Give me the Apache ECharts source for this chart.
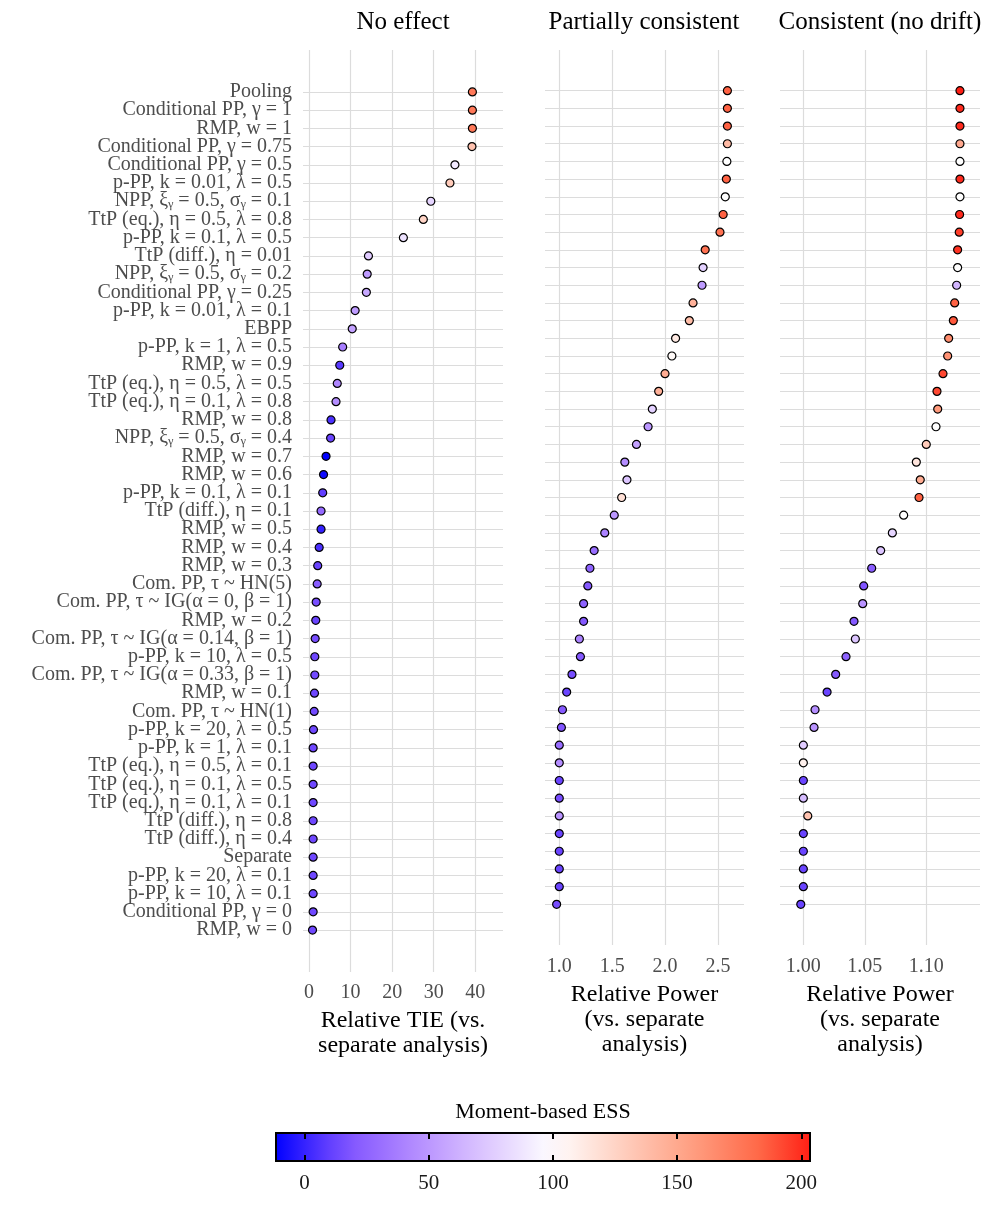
<!DOCTYPE html>
<html>
<head>
<meta charset="utf-8">
<script src="https://cdn.jsdelivr.net/npm/echarts@6/dist/echarts.min.js"></script>
<style>
  html, body { margin: 0; padding: 0; background: #fff; }
  #main { width: 997px; height: 1231px; }
</style>
</head>
<body>
<div id="main"></div>
<script>
// row labels of the first panel (top to bottom)
var methods = [
  'Pooling', 'Conditional PP, γ = 1', 'RMP, w = 1', 'Conditional PP, γ = 0.75',
  'Conditional PP, γ = 0.5', 'p-PP, k = 0.01, λ = 0.5', 'NPP, ξᵧ = 0.5, σᵧ = 0.1',
  'TtP (eq.), η = 0.5, λ = 0.8', 'p-PP, k = 0.1, λ = 0.5', 'TtP (diff.), η = 0.01',
  'NPP, ξᵧ = 0.5, σᵧ = 0.2', 'Conditional PP, γ = 0.25', 'p-PP, k = 0.01, λ = 0.1',
  'EBPP', 'p-PP, k = 1, λ = 0.5', 'RMP, w = 0.9', 'TtP (eq.), η = 0.5, λ = 0.5',
  'TtP (eq.), η = 0.1, λ = 0.8', 'RMP, w = 0.8', 'NPP, ξᵧ = 0.5, σᵧ = 0.4',
  'RMP, w = 0.7', 'RMP, w = 0.6', 'p-PP, k = 0.1, λ = 0.1', 'TtP (diff.), η = 0.1',
  'RMP, w = 0.5', 'RMP, w = 0.4', 'RMP, w = 0.3', 'Com. PP, τ ~ HN(5)',
  'Com. PP, τ ~ IG(α = 0, β = 1)', 'RMP, w = 0.2', 'Com. PP, τ ~ IG(α = 0.14, β = 1)',
  'p-PP, k = 10, λ = 0.5', 'Com. PP, τ ~ IG(α = 0.33, β = 1)', 'RMP, w = 0.1',
  'Com. PP, τ ~ HN(1)', 'p-PP, k = 20, λ = 0.5', 'p-PP, k = 1, λ = 0.1',
  'TtP (eq.), η = 0.5, λ = 0.1', 'TtP (eq.), η = 0.1, λ = 0.5', 'TtP (eq.), η = 0.1, λ = 0.1',
  'TtP (diff.), η = 0.8', 'TtP (diff.), η = 0.4', 'Separate', 'p-PP, k = 20, λ = 0.1',
  'p-PP, k = 10, λ = 0.1', 'Conditional PP, γ = 0', 'RMP, w = 0'
];

// No effect: relative TIE and ESS
var tieValues = [39.3, 39.3, 39.3, 39.2, 35.1, 33.9, 29.3, 27.5, 22.7, 14.3, 14.0, 13.8,
  11.1, 10.4, 8.1, 7.4, 6.8, 6.5, 5.3, 5.2, 4.1, 3.5, 3.3, 2.9, 2.9, 2.45, 2.1, 1.97,
  1.73, 1.63, 1.49, 1.4, 1.4, 1.32, 1.25, 1.08, 1.0, 1.0, 1.0, 1.0, 1.0, 1.0, 1.0, 1.0,
  1.0, 1.0, 0.85];
var tieESS = [175, 175, 175, 135, 90, 130, 80, 125, 86, 75, 52, 58, 52, 55, 38, 8, 42, 45,
  5, 12, -11.5, -8, 10, 28, 0, 5, 12, 22, 15, 12, 15, 13, 14, 13, 14, 13, 13, 13, 13, 13,
  13, 13, 13, 13, 13, 13, 13];

// Partially consistent: relative power and ESS (panel sorted on its own)
var partialPower = [2.59, 2.59, 2.59, 2.59, 2.585, 2.58, 2.57, 2.55, 2.52, 2.38, 2.36, 2.35,
  2.265, 2.23, 2.10, 2.065, 2.0, 1.94, 1.88, 1.84, 1.73, 1.62, 1.64, 1.59, 1.52, 1.43, 1.33,
  1.29, 1.27, 1.23, 1.23, 1.19, 1.20, 1.12, 1.07, 1.03, 1.02, 1.0, 1.0, 1.0, 1.0, 1.0, 1.0,
  1.0, 1.0, 1.0, 0.975];
var partialESS = [185, 185, 185, 140, 100, 185, 100, 185, 178, 178, 78, 52, 145, 138, 112, 103,
  148, 145, 78, 50, 55, 45, 72, 118, 50, 40, 30, 25, 20, 25, 20, 40, 20, 15, 12, 20, 18, 30,
  45, 12, 15, 48, 12, 12, 12, 12, 15];

// Consistent (no drift): relative power and ESS
var consistentPower = [1.1274, 1.1274, 1.1274, 1.1274, 1.1274, 1.1274, 1.1274, 1.1271, 1.1268,
  1.1255, 1.1255, 1.1247, 1.1231, 1.122, 1.1182, 1.1174, 1.1136, 1.1087, 1.1093, 1.1079, 1.100,
  1.0919, 1.0951, 1.0941, 1.0816, 1.0724, 1.0629, 1.0556, 1.0491, 1.0483, 1.0412, 1.0423, 1.0347,
  1.0263, 1.0193, 1.0095, 1.0087, 1.0, 1.0, 1.0, 1.0, 1.0036, 1.0, 1.0, 1.0, 1.0, 0.9979];
var consistentESS = [203.5, 200, 200, 150, 100, 200, 100, 200, 195, 198, 100, 65, 185, 188, 165,
  162, 192, 192, 158, 100, 130, 115, 148, 185, 100, 80, 72, 22, 18, 48, 20, 72, 25, 20, 12, 45,
  48, 75, 108, 12, 68, 135, 12, 12, 12, 12, 12];

var tieTicks = [0, 10, 20, 30, 40];
var partialTicks = [1.0, 1.5, 2.0, 2.5];
var consistentTicks = [1.00, 1.05, 1.10];
var essTicks = [0, 50, 100, 150, 200];
var essMin = -11.5, essMax = 203.5;

var panelTitles = ['No effect', 'Partially consistent', 'Consistent (no drift)'];

// blue - white - red, white at ESS 100 (Lab-like steps)
var palette = ['#0000FF', '#7E51FF', '#B38BFF', '#DCC5FF', '#FFFFFF',
  '#FFCFBF', '#FF9E81', '#FF6746', '#FF0000'];
var half = Math.max(100 - essMin, essMax - 100);

var rowIdx = methods.map(function(m, i) { return i; });
// empty labels at both ends so ECharts keeps the first and last real label
var labelIdx = [-2].concat(rowIdx, [methods.length + 1]);
var font = 'Liberation Serif';

function toPoints(xs, ess) {
  return xs.map(function(x, i) { return [x, i, ess[i]]; });
}

// colour bar fill
var barStops = [];
for (var k = 0; k <= 20; k++) {
  var v = essMin + (essMax - essMin) * k / 20;
  barStops.push({ offset: k / 20, color: echarts.color.lerp((v - (100 - half)) / (2 * half), palette) });
}

var myChart = echarts.init(document.getElementById('main'));

function yAxisFor(gi, showLabels) {
  return {
    type: 'value', gridIndex: gi, inverse: true, min: -2.3, max: 48.3,
    axisLine: { show: false },
    axisTick: { show: false, customValues: rowIdx },
    axisLabel: {
      show: showLabels, customValues: labelIdx, margin: 11,
      color: '#4d4d4d', fontFamily: font, fontSize: 20,
      formatter: function(v) { return methods[v] || ''; }
    },
    splitLine: { show: true, lineStyle: { color: '#dcdcdc', width: 1.2 } }
  };
}

function xAxisFor(gi, min, max, ticks, digits, name, gap, margin) {
  return {
    type: 'value', gridIndex: gi, min: min, max: max,
    axisLine: { show: false },
    axisTick: { show: false, customValues: ticks },
    axisLabel: {
      customValues: ticks, margin: margin, color: '#4d4d4d', fontFamily: font, fontSize: 20,
      showMinLabel: true, showMaxLabel: true,
      formatter: function(v) { return v.toFixed(digits); }
    },
    splitLine: { show: true, lineStyle: { color: '#dcdcdc', width: 1.2 } },
    name: name, nameLocation: 'middle', nameGap: gap,
    nameTextStyle: { color: '#000', fontFamily: font, fontSize: 24, lineHeight: 25 }
  };
}

function titleText(x, text) {
  return { type: 'text', x: x, y: 22,
    style: { text: text, textAlign: 'center', textVerticalAlign: 'middle', font: '25px "Liberation Serif"', fill: '#000' } };
}

var option = {
  backgroundColor: '#fff',
  animation: false,
  graphic: [
    titleText(403, panelTitles[0]),
    titleText(644, panelTitles[1]),
    titleText(880, panelTitles[2])
  ],
  grid: [
    { left: 303, right: 494, top: 50, bottom: 259 },
    { left: 545, right: 253, top: 50, bottom: 286 },
    { left: 780, right: 17, top: 50, bottom: 286 },
    { left: 276, right: 187, top: 1133, height: 28, show: true,
      backgroundColor: new echarts.graphic.LinearGradient(0, 0, 1, 0, barStops),
      borderColor: '#000', borderWidth: 2 }
  ],
  xAxis: [
    xAxisFor(0, -1.44, 46.66, tieTicks, 0, 'Relative TIE (vs.\nseparate analysis)', 33, 11),
    xAxisFor(1, 0.865, 2.747, partialTicks, 1, 'Relative Power\n(vs. separate\nanalysis)', 35, 12),
    xAxisFor(2, 0.981, 1.1437, consistentTicks, 2, 'Relative Power\n(vs. separate\nanalysis)', 35, 12),
    {
      type: 'value', gridIndex: 3, position: 'bottom', min: essMin, max: essMax,
      axisLine: { show: false },
      axisTick: { show: true, inside: true, length: 6, customValues: essTicks, lineStyle: { color: '#000', width: 2 } },
      axisLabel: { customValues: essTicks, margin: 12, color: '#1a1a1a', fontFamily: font, fontSize: 21 },
      splitLine: { show: false }
    },
    {
      type: 'value', gridIndex: 3, position: 'top', min: essMin, max: essMax,
      axisLine: { show: false },
      axisTick: { show: true, inside: true, length: 6, customValues: essTicks, lineStyle: { color: '#000', width: 2 } },
      axisLabel: { show: false },
      splitLine: { show: false },
      name: 'Moment-based ESS', nameLocation: 'middle', nameGap: 10,
      nameTextStyle: { color: '#000', fontFamily: font, fontSize: 22 }
    }
  ],
  yAxis: [
    yAxisFor(0, true),
    yAxisFor(1, false),
    yAxisFor(2, false),
    { type: 'value', gridIndex: 3, min: 0, max: 1, show: false }
  ],
  visualMap: {
    type: 'continuous', show: false, seriesIndex: [0, 1, 2], dimension: 2,
    min: 100 - half, max: 100 + half,
    inRange: { color: palette }
  },
  series: [
    { type: 'scatter', xAxisIndex: 0, yAxisIndex: 0, symbolSize: 8,
      itemStyle: { borderColor: '#000', borderWidth: 1.2, opacity: 1 },
      data: toPoints(tieValues, tieESS) },
    { type: 'scatter', xAxisIndex: 1, yAxisIndex: 1, symbolSize: 8,
      itemStyle: { borderColor: '#000', borderWidth: 1.2, opacity: 1 },
      data: toPoints(partialPower, partialESS) },
    { type: 'scatter', xAxisIndex: 2, yAxisIndex: 2, symbolSize: 8,
      itemStyle: { borderColor: '#000', borderWidth: 1.2, opacity: 1 },
      data: toPoints(consistentPower, consistentESS) },
    { type: 'scatter', xAxisIndex: 3, yAxisIndex: 3, data: [] }
  ]
};

myChart.setOption(option);
</script>
</body>
</html>
